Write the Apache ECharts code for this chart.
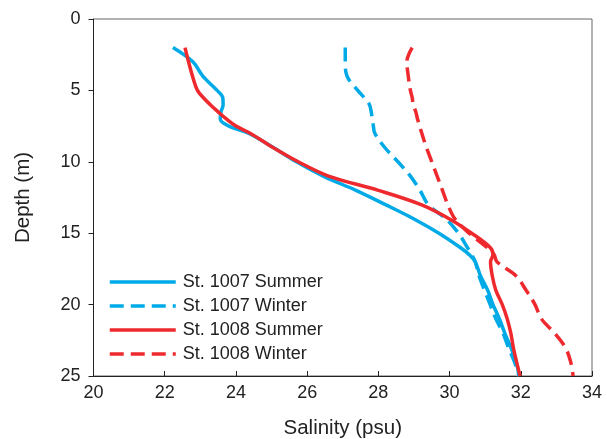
<!DOCTYPE html>
<html>
<head>
<meta charset="utf-8">
<script src="https://cdn.jsdelivr.net/npm/echarts@6/dist/echarts.min.js"></script>
<style>html,body{margin:0;padding:0;background:#fff}#c{width:607px;height:439px}</style>
</head>
<body>
<div id="c"></div>
<script>
const depths = [2,3,4,5,5.5,6,6.5,7,7.5,8,9,10,11,12,13,14,15,16,16.5,17,18,19,20,21,22,23,24,25];
const sal1007Summer = [22.23,22.79,23.07,23.47,23.63,23.64,23.58,23.56,23.8,24.35,25.05,25.7,26.45,27.37,28.2,29.0,29.7,30.3,30.55,30.72,30.87,31.07,31.22,31.4,31.55,31.72,31.87,31.95];
const sal1007Winter = [27.07,27.07,27.12,27.42,27.6,27.75,27.8,27.83,27.86,27.9,28.18,28.55,28.9,29.17,29.4,29.9,30.25,30.5,30.62,30.72,30.83,30.98,31.14,31.3,31.5,31.65,31.82,31.95];
const sal1008Summer = [22.57,22.67,22.78,22.92,23.08,23.28,23.5,23.73,24.0,24.4,25.04,25.75,26.6,28.0,29.2,30.0,30.62,31.14,31.22,31.15,31.2,31.3,31.48,31.62,31.72,31.79,31.88,31.98];
const sal1008Winter = [28.95,28.8,28.84,28.9,28.95,28.98,29.05,29.1,29.16,29.22,29.35,29.5,29.65,29.8,29.95,30.15,30.55,31.05,31.25,31.33,31.87,32.15,32.4,32.58,32.95,33.25,33.4,33.47];
const seriesNames = ['St. 1007 Summer','St. 1007 Winter','St. 1008 Summer','St. 1008 Winter'];
const xTicks = [20,22,24,26,28,30,32,34];
const yTicks = [0,5,10,15,20,25];

const BLUE = '#00AAE6', RED = '#EE2A2E';
const pairs = s => s.map((v,i)=>[v, depths[i]]);
function mk(name, arr, color, dashed){
  return {name, type:'line', data:pairs(arr), symbol:'none', smooth:0.35,
    lineStyle:{color, width:3.5, type: dashed ? [14,7] : 'solid'}, itemStyle:{color}};
}
const chart = echarts.init(document.getElementById('c'), null, {renderer:'canvas'});
const font = 'Liberation Sans, Arial, sans-serif';
chart.setOption({
  animation:false,
  textStyle:{fontFamily:font},
  grid:{left:93.5, right:15, top:19, bottom:63, containLabel:false, outerBoundsMode:'none',
    show:true, borderColor:'#666', borderWidth:1},
  legend:{orient:'vertical', left:103, top:268, itemWidth:66, itemHeight:14, itemGap:6,
    itemStyle:{opacity:0}, lineStyle:{width:3.5},
    textStyle:{fontSize:18, color:'#222', fontFamily:font, padding:[0,0,0,2]}, data:seriesNames},
  xAxis:{type:'value', min:xTicks[0], max:xTicks[xTicks.length-1], interval:2,
    name:'Salinity (psu)', nameLocation:'middle', nameGap:42,
    nameTextStyle:{fontSize:20.5, color:'#222', fontFamily:font},
    axisLine:{onZero:false, lineStyle:{color:'#222', width:1}},
    axisTick:{inside:true, length:5, lineStyle:{color:'#222'}},
    axisLabel:{fontSize:18, color:'#222', margin:8, fontFamily:font},
    splitLine:{show:false}},
  yAxis:{type:'value', inverse:true, min:yTicks[0], max:yTicks[yTicks.length-1], interval:5,
    name:'Depth (m)', nameLocation:'middle', nameGap:60, nameRotate:90,
    nameTextStyle:{fontSize:20.5, color:'#222', fontFamily:font},
    axisLine:{onZero:false, lineStyle:{color:'#222', width:1}},
    axisTick:{inside:false, length:5, lineStyle:{color:'#222'}},
    axisLabel:{fontSize:18, color:'#222', margin:13, fontFamily:font},
    splitLine:{show:false}},
  series:[
    mk(seriesNames[0], sal1007Summer, BLUE, false),
    mk(seriesNames[1], sal1007Winter, BLUE, true),
    mk(seriesNames[2], sal1008Summer, RED, false),
    mk(seriesNames[3], sal1008Winter, RED, true)
  ]
});
</script>
</body>
</html>
